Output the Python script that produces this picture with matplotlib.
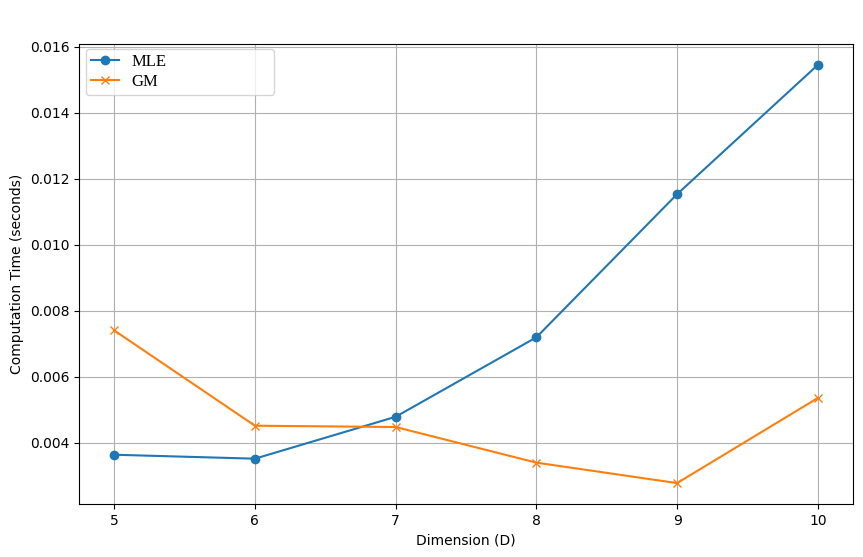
import matplotlib
matplotlib.use("Agg")
import matplotlib.pyplot as plt

dimensions = [5, 6, 7, 8, 9, 10]
mle_times = [0.00363, 0.00351, 0.00478, 0.00719, 0.01153, 0.01545]
gm_times = [0.00740, 0.00451, 0.00447, 0.00339, 0.00277, 0.00535]
series_labels = ["MLE", "GM"]

fig = plt.figure(figsize=(8.63, 5.57), dpi=100)
ax = fig.add_axes([79/863, 1-504/557, (853-79)/863, (504-44)/557])

ax.plot(dimensions, mle_times, marker="o", label=series_labels[0])
ax.plot(dimensions, gm_times, marker="x", label=series_labels[1])

ax.set_xlabel("Dimension (D)")
ax.set_ylabel("Computation Time (seconds)")
ax.grid(True)
ax.set_xticks(dimensions)

ax.legend(loc="upper left", bbox_to_anchor=(0.009, 0, 0.243, 0.989), mode="expand",
          borderaxespad=0, handletextpad=0.75, handlelength=1.7,
          labelspacing=0.25, borderpad=0.3,
          prop={"family": "Liberation Serif", "size": 12})

fig.savefig("out.png", dpi=100)
